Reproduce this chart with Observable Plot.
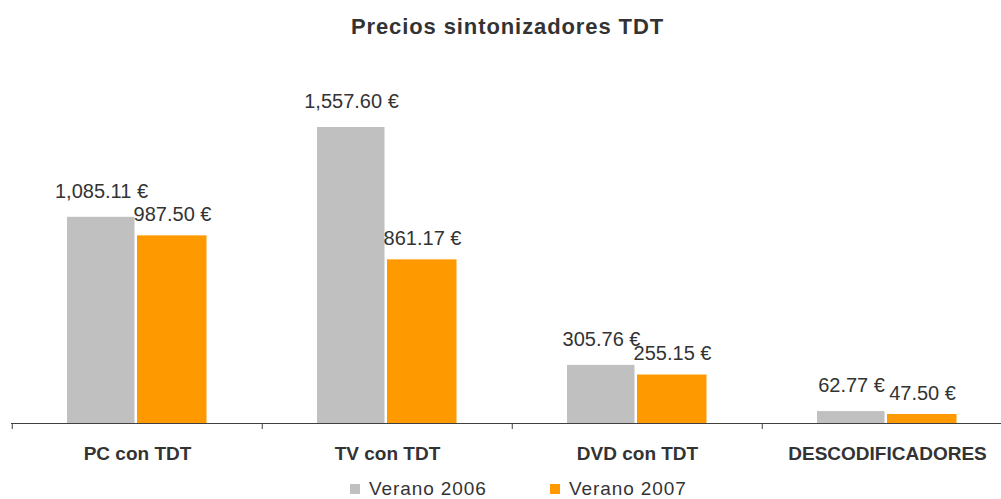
<!DOCTYPE html>
<html><head><meta charset="utf-8">
<script src="https://cdn.jsdelivr.net/npm/d3@7"></script>
<script src="https://cdn.jsdelivr.net/npm/@observablehq/plot@0.6"></script>
<style>
body{margin:0;background:#fff;font-family:"Liberation Sans",Arial,sans-serif;color:#333;}
#title{height:56px;line-height:54px;text-align:center;font-weight:bold;font-size:22px;color:#333;letter-spacing:0.9px;padding-left:14px;}
#legend{position:relative;height:23px;font-size:19px;color:#333;}
.item{position:absolute;top:1px;display:flex;align-items:center;height:23px;letter-spacing:0.9px;}
.sw{width:10px;height:10px;margin-right:9px;}
</style></head>
<body>
<div id="title">Precios sintonizadores TDT</div>
<div id="chart"></div>
<div id="legend"></div>
<script>
const categories = ["PC con TDT", "TV con TDT", "DVD con TDT", "DESCODIFICADORES"];
const series = ["Verano 2006", "Verano 2007"];
const verano2006 = [1085.11, 1557.60, 305.76, 62.77];
const verano2007 = [987.50, 861.17, 255.15, 47.50];
const colors = ["#c0c0c0", "#ff9900"];

const fmt = v => d3.format(",.2f")(v) + " €";
const d06 = categories.map((c, i) => ({category: c, value: verano2006[i]}));
const d07 = categories.map((c, i) => ({category: c, value: verano2007[i]}));

const chart = Plot.plot({
  width: 1001, height: 420,
  marginLeft: 11, marginRight: 0, marginTop: 71, marginBottom: 53,
  style: {fontFamily: "Liberation Sans, Arial, sans-serif", color: "#333"},
  x: {domain: categories, range: [11, 1013], padding: 0, label: null},
  y: {domain: [0, 1557.6], axis: null},
  marks: [
    Plot.barY(d06, {x: "category", y: "value", fill: colors[0], insetLeft: 55, insetRight: 127.5}),
    Plot.barY(d07, {x: "category", y: "value", fill: colors[1], insetLeft: 125, insetRight: 55.5}),
    Plot.text(d06, {x: "category", y: "value", text: d => fmt(d.value), dx: -36, dy: -26, fontSize: 20, fill: "#333"}),
    Plot.text(d07, {x: "category", y: "value", text: d => fmt(d.value), dx: 35, dy: -21, fontSize: 20, fill: "#333"}),
    Plot.ruleY([0], {stroke: "#404040", strokeWidth: 1.2}),
    Plot.ruleX(categories, {x: d => d, dx: -125.25, y1: 0, y2: 0, insetBottom: -6, stroke: "#404040"}),
    Plot.axisX({tickSize: 0, tickPadding: 23, fontSize: 19, fontWeight: "bold", fill: "#333"})
  ]
});
document.getElementById("chart").appendChild(chart);

const legend = document.getElementById("legend");
const lx = [350, 550];
series.forEach((s, i) => {
  const it = document.createElement("div");
  it.className = "item";
  it.style.left = lx[i] + "px";
  it.innerHTML = `<div class="sw" style="background:${colors[i]}"></div><span>${s}</span>`;
  legend.appendChild(it);
});
</script>
</body></html>
